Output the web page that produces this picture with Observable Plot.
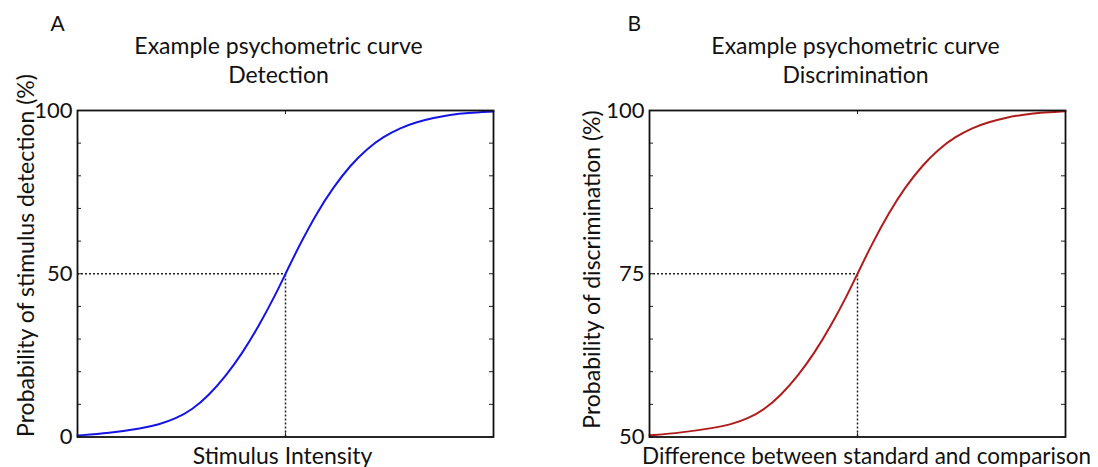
<!DOCTYPE html>
<html><head><meta charset="utf-8">
<script src="https://cdn.jsdelivr.net/npm/d3@7"></script>
<script src="https://cdn.jsdelivr.net/npm/@observablehq/plot@0.6"></script>
<style>
body{margin:0;background:#fff;}
#wrap{position:relative;width:1098px;height:467px;overflow:hidden;background:#fff;}
.panel{position:absolute;top:0;}
#a{left:0px}
#b{left:549px}
</style></head><body><div id="wrap"><div id="a" class="panel"></div><div id="b" class="panel"></div></div>
<script>
// Panel A: detection curve (x is arbitrary stimulus intensity units 0..10)
const intensity = [0, 0.75, 1.56, 1.95, 2.36, 2.76, 3.16, 3.56, 3.96, 4.36, 4.76, 5, 5.35, 5.75, 6.15, 6.56, 6.95, 7.36, 7.76, 8.16, 8.56, 8.96, 9.36, 10];
const detection = [0.45, 1.2, 2.7, 3.8, 5.6, 8.4, 12.8, 18.6, 25.6, 34.0, 43.6, 50, 59.1, 68.6, 76.5, 83.2, 88.2, 92.0, 94.7, 96.5, 97.8, 98.7, 99.3, 99.7];
// Panel B: discrimination curve
const difference = [0, 0.75, 1.56, 1.95, 2.36, 2.76, 3.16, 3.56, 3.96, 4.36, 4.76, 5, 5.35, 5.75, 6.15, 6.56, 6.95, 7.36, 7.76, 8.16, 8.56, 8.96, 9.36, 10];
const discrimination = [50.25, 50.65, 51.4, 51.9, 52.8, 54.2, 56.4, 59.3, 62.8, 67.0, 71.8, 75, 79.6, 84.3, 88.3, 91.6, 94.1, 96.0, 97.35, 98.25, 98.9, 99.35, 99.65, 99.9];

const xDomain = [0, 10];
const xMidTick = [5];
const detTicks = [0, 10, 20, 30, 40, 50, 60, 70, 80, 90, 100];
const detLabels = [0, 50, 100];
const disTicks = [50, 55, 60, 65, 70, 75, 80, 85, 90, 95, 100];
const disLabels = [50, 75, 100];
const detThreshold = {x: 5, y: 50};
const disThreshold = {x: 5, y: 75};

const FONT = "Lato, 'Open Sans', sans-serif";
const W = 549, H = 467, MT = 110, MB = 30.5;

function panel(o) {
  const fw = W - o.ml - o.mr, fh = H - MT - MB;
  const rows = o.xs.map((x, i) => ({x, y: o.ys[i]}));
  const yMin = o.yDomain[0];
  return Plot.plot({
    width: W, height: H,
    marginLeft: o.ml, marginRight: o.mr, marginTop: MT, marginBottom: MB,
    style: {fontFamily: FONT, color: "#111", background: "#fff"},
    x: {domain: xDomain, axis: null},
    y: {domain: o.yDomain},
    marks: [
      Plot.ruleY([o.thr], {y: "y", x1: xDomain[0], x2: "x", stroke: "#222", strokeWidth: 1.5, strokeDasharray: "2,2"}),
      Plot.ruleX([o.thr], {x: "x", y1: yMin, y2: "y", stroke: "#222", strokeWidth: 1.5, strokeDasharray: "2,2"}),
      Plot.line(rows, {x: "x", y: "y", stroke: o.color, strokeWidth: 2, curve: "basis"}),
      Plot.tickY(o.ticks, {y: d => d, insetRight: fw - 4, stroke: "#222", strokeWidth: 1}),
      Plot.tickY(o.ticks, {y: d => d, insetLeft: fw - 4, stroke: "#222", strokeWidth: 1}),
      Plot.tickX(xMidTick, {x: d => d, insetTop: fh - 4, stroke: "#222", strokeWidth: 1}),
      Plot.tickX(xMidTick, {x: d => d, insetBottom: fh - 4, stroke: "#222", strokeWidth: 1}),
      Plot.axisY(o.labels, {tickSize: 0, tickPadding: 5, fontSize: 22, label: null, fill: "#111"}),
      Plot.frame({stroke: "#111", strokeWidth: 1.8}),
      Plot.text([o.letter], {frameAnchor: "top-left", dx: o.letterX - o.ml, dy: 30 - MT, lineAnchor: "bottom", textAnchor: "start", fontSize: 21, fill: "#111"}),
      Plot.text([o.title1], {frameAnchor: "top-left", dx: o.titleX - o.ml, dy: 53 - MT, lineAnchor: "bottom", textAnchor: "middle", fontSize: 23, fill: "#111"}),
      Plot.text([o.title2], {frameAnchor: "top-left", dx: o.titleX - o.ml, dy: 82 - MT, lineAnchor: "bottom", textAnchor: "middle", fontSize: 23, fill: "#111"}),
      Plot.text([o.ylabel], {frameAnchor: "top-left", dx: o.ylabX - o.ml, dy: o.ylabY - MT, rotate: -90, lineAnchor: "bottom", textAnchor: "middle", fontSize: 23, fill: "#111"}),
      Plot.text([o.xlabel], {frameAnchor: "top-left", dx: o.xlabX - o.ml, dy: 463 - MT, lineAnchor: "bottom", textAnchor: "middle", fontSize: o.xlabSize, fill: "#111"})
    ]
  });
}

document.getElementById("a").append(panel({
  xs: intensity, ys: detection, yDomain: [0, 100], ticks: detTicks, labels: detLabels, thr: detThreshold,
  color: "#1414e6", ml: 77, mr: 56,
  letter: "A", letterX: 50, title1: "Example psychometric curve", title2: "Detection", titleX: 278,
  ylabel: "Probability of stimulus detection (%)", ylabX: 33, ylabY: 255,
  xlabel: "Stimulus Intensity", xlabX: 282, xlabSize: 23
}));
document.getElementById("b").append(panel({
  xs: difference, ys: discrimination, yDomain: [50, 100], ticks: disTicks, labels: disLabels, thr: disThreshold,
  color: "#b01c1c", ml: 100, mr: 33,
  letter: "B", letterX: 627 - 549, title1: "Example psychometric curve", title2: "Discrimination", titleX: 855 - 549,
  ylabel: "Probability of discrimination (%)", ylabX: 599 - 549, ylabY: 269,
  xlabel: "Difference between standard and comparison", xlabX: 866 - 549, xlabSize: 22.5
}));
</script>
</body></html>
